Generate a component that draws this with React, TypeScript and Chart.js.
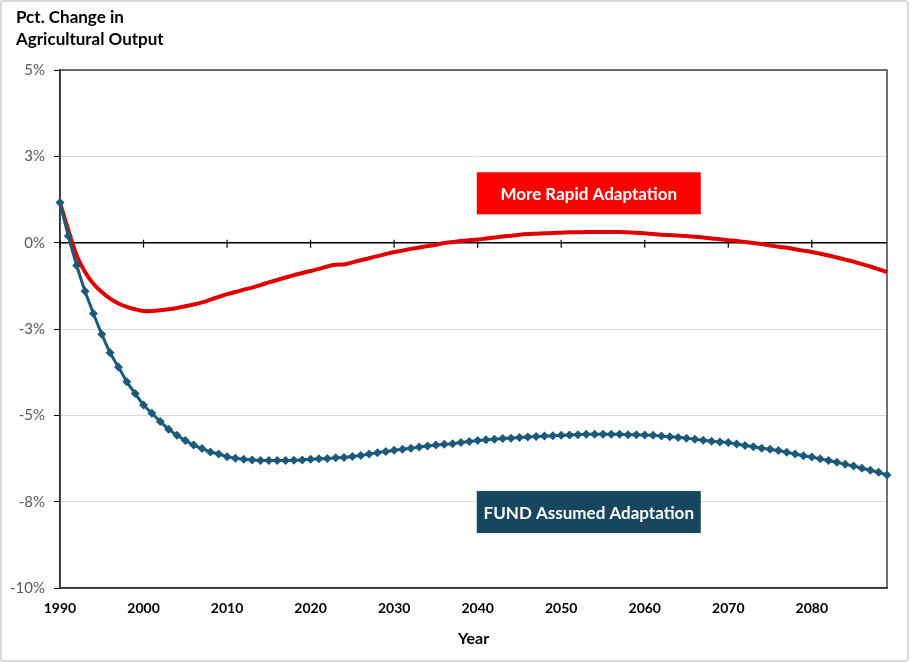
import React, { useEffect, useRef } from "react";
import { Chart, registerables } from "chart.js";

Chart.register(...registerables);

// ---- data ----
const YEARS: number[] = Array.from({ length: 100 }, (_, i) => 1990 + i);

const MORE_RAPID: number[] = [
  1.16, 0.36, -0.37, -0.85, -1.19, -1.43, -1.62, -1.76, -1.86, -1.93,
  -1.98, -1.98, -1.96, -1.93, -1.89, -1.84, -1.79, -1.73, -1.65, -1.57,
  -1.49, -1.43, -1.36, -1.30, -1.23, -1.15, -1.08, -1.01, -0.94, -0.88,
  -0.82, -0.76, -0.69, -0.64, -0.63, -0.57, -0.51, -0.45, -0.39, -0.33,
  -0.27, -0.23, -0.18, -0.14, -0.10, -0.06, -0.01, 0.02, 0.05, 0.07,
  0.09, 0.12, 0.15, 0.18, 0.20, 0.23, 0.25, 0.26, 0.27, 0.28,
  0.29, 0.30, 0.30, 0.31, 0.31, 0.31, 0.31, 0.31, 0.30, 0.29,
  0.27, 0.25, 0.23, 0.22, 0.21, 0.19, 0.17, 0.15, 0.12, 0.10,
  0.07, 0.05, 0.02, -0.01, -0.04, -0.08, -0.12, -0.15, -0.19, -0.23,
  -0.27, -0.32, -0.37, -0.43, -0.49, -0.55, -0.62, -0.69, -0.77, -0.85,
];

const FUND_ASSUMED: number[] = [
  1.16, 0.19, -0.66, -1.41, -2.05, -2.65, -3.19, -3.60, -4.03, -4.37,
  -4.70, -4.94, -5.18, -5.40, -5.58, -5.73, -5.86, -5.96, -6.06, -6.12,
  -6.20, -6.24, -6.27, -6.29, -6.31, -6.31, -6.31, -6.31, -6.30, -6.29,
  -6.27, -6.26, -6.25, -6.23, -6.22, -6.19, -6.16, -6.12, -6.08, -6.05,
  -6.01, -5.98, -5.95, -5.92, -5.89, -5.86, -5.84, -5.82, -5.79, -5.76,
  -5.73, -5.71, -5.69, -5.67, -5.66, -5.64, -5.63, -5.61, -5.60, -5.59,
  -5.58, -5.57, -5.56, -5.55, -5.55, -5.55, -5.55, -5.55, -5.56, -5.56,
  -5.57, -5.58, -5.60, -5.62, -5.64, -5.66, -5.69, -5.72, -5.75, -5.77,
  -5.79, -5.83, -5.87, -5.91, -5.95, -5.98, -6.02, -6.07, -6.12, -6.17,
  -6.21, -6.26, -6.31, -6.36, -6.42, -6.47, -6.53, -6.59, -6.65, -6.73,
];

const X_TICK_YEARS: number[] = [1990, 2000, 2010, 2020, 2030, 2040, 2050, 2060, 2070, 2080];
const Y_TICK_VALUES: number[] = [-10, -7.5, -5, -2.5, 0, 2.5, 5];

const Y_TITLE_LINES: string[] = ["Pct. Change in", "Agricultural Output"];
const X_TITLE = "Year";
const SERIES_NAMES: string[] = ["More Rapid Adaptation", "FUND Assumed Adaptation"];

// label anchors (data coordinates)
const LABEL_X: number[] = [2053.3, 2053.3];
const LABEL_Y: number[] = [1.43, -7.8];

const RED = "#e00000";
const BLUE = "#1b5a7a";
const BOX_COLORS = ["#ff0000", "#17465f"];
const FONT = "Lato";

const fmtPct = (v: number) => {
  const r = Math.sign(v) * Math.round(Math.abs(v));
  return `${r === 0 ? 0 : r}%`;
};

const decorPlugin = {
  id: "decor",
  beforeDatasetsDraw(chart: any) {
    const { ctx, chartArea, scales } = chart;
    const x = scales.x;
    const y = scales.y;
    ctx.save();
    // plot area border
    ctx.strokeStyle = "#404040";
    ctx.lineWidth = 1.5;
    ctx.strokeRect(chartArea.left, chartArea.top, chartArea.right - chartArea.left, chartArea.bottom - chartArea.top);
    // zero axis line with cross ticks
    const y0 = y.getPixelForValue(0);
    ctx.strokeStyle = "#000";
    ctx.lineWidth = 1.5;
    ctx.beginPath();
    ctx.moveTo(chartArea.left, y0);
    ctx.lineTo(chartArea.right, y0);
    ctx.stroke();
    ctx.lineWidth = 1.2;
    X_TICK_YEARS.forEach((yr) => {
      const px = x.getPixelForValue(yr);
      ctx.beginPath();
      ctx.moveTo(px, y0 - 3);
      ctx.lineTo(px, y0 + 5);
      ctx.stroke();
    });
    ctx.restore();
  },
  afterDraw(chart: any) {
    const { ctx, scales } = chart;
    ctx.save();
    // y-axis title (top-left)
    ctx.fillStyle = "#000";
    ctx.font = `bold 17px ${FONT}`;
    ctx.textAlign = "left";
    ctx.textBaseline = "alphabetic";
    ctx.fillText(Y_TITLE_LINES[0], 16, 23);
    ctx.fillText(Y_TITLE_LINES[1], 16, 44.5);
    // series label boxes
    SERIES_NAMES.forEach((name, i) => {
      const cx = scales.x.getPixelForValue(LABEL_X[i]);
      const cy = scales.y.getPixelForValue(LABEL_Y[i]);
      const w = 224;
      const h = 42;
      ctx.fillStyle = BOX_COLORS[i];
      ctx.fillRect(cx - w / 2, cy - h / 2, w, h);
      ctx.fillStyle = "#fff";
      ctx.font = `bold 17px ${FONT}`;
      ctx.textAlign = "center";
      ctx.textBaseline = "middle";
      ctx.fillText(name, cx, cy + 1);
    });
    ctx.restore();
  },
};

export default function App() {
  const ref = useRef<HTMLCanvasElement | null>(null);

  useEffect(() => {
    if (!ref.current) return;
    const chart = new Chart(ref.current, {
      type: "line",
      data: {
        datasets: [
          {
            label: SERIES_NAMES[1],
            data: YEARS.map((yr, i) => ({ x: yr, y: FUND_ASSUMED[i] })),
            borderColor: BLUE,
            backgroundColor: BLUE,
            borderWidth: 3,
            pointStyle: "rectRot",
            pointRadius: 4.5,
            pointBorderWidth: 0,
            pointBackgroundColor: BLUE,
            tension: 0.2,
            order: 0,
            clip: 8,
          },
          {
            label: SERIES_NAMES[0],
            data: YEARS.map((yr, i) => ({ x: yr, y: MORE_RAPID[i] })),
            borderColor: RED,
            backgroundColor: RED,
            borderWidth: 4,
            pointRadius: 0,
            tension: 0.3,
            order: 1,
            clip: 8,
          },
        ],
      },
      options: {
        animation: false,
        responsive: false,
        maintainAspectRatio: false,
        layout: { padding: { left: 1, right: 25, top: 70, bottom: 6 } },
        plugins: {
          legend: { display: false },
          tooltip: { enabled: false },
          title: { display: false },
        },
        scales: {
          x: {
            type: "linear",
            min: 1990,
            max: 2089,
            afterBuildTicks: (s: any) => {
              s.ticks = X_TICK_YEARS.map((v) => ({ value: v }));
            },
            ticks: {
              callback: (v: any) => String(v),
              color: "#000",
              font: { family: FONT, size: 14, weight: "bold" },
              padding: 12,
              maxRotation: 0,
              minRotation: 0,
              autoSkip: false,
            },
            grid: { display: false, drawTicks: false },
            border: { color: "#000", width: 1.5 },
            title: {
              display: true,
              text: X_TITLE,
              color: "#000",
              font: { family: FONT, size: 16, weight: "bold" },
              padding: { top: 0, bottom: 8 },
            },
          },
          y: {
            min: -10,
            max: 5,
            afterBuildTicks: (s: any) => {
              s.ticks = Y_TICK_VALUES.map((v) => ({ value: v }));
            },
            ticks: {
              callback: (v: any) => fmtPct(Number(v)),
              color: "#595959",
              font: { family: FONT, size: 15 },
              padding: 9,
            },
            grid: {
              color: "#d9d9d9",
              lineWidth: 1,
              tickColor: "#000",
              tickLength: 6,
              drawTicks: true,
            },
            border: { color: "#000", width: 1.5 },
          },
        },
      },
      plugins: [decorPlugin],
    } as any);
    return () => chart.destroy();
  }, []);

  return (
    <div style={{ position: "absolute", left: 0, top: 0, width: 912, height: 662, background: "#fff" }}>
      <canvas ref={ref} width={912} height={662} style={{ position: "absolute", left: 0, top: 0 }} />
      <div
        style={{
          position: "absolute",
          left: 0,
          top: 0,
          width: 909,
          height: 662,
          border: "2px solid #d9d9d9",
          borderRadius: 4,
          boxSizing: "border-box",
          pointerEvents: "none",
        }}
      />
    </div>
  );
}
